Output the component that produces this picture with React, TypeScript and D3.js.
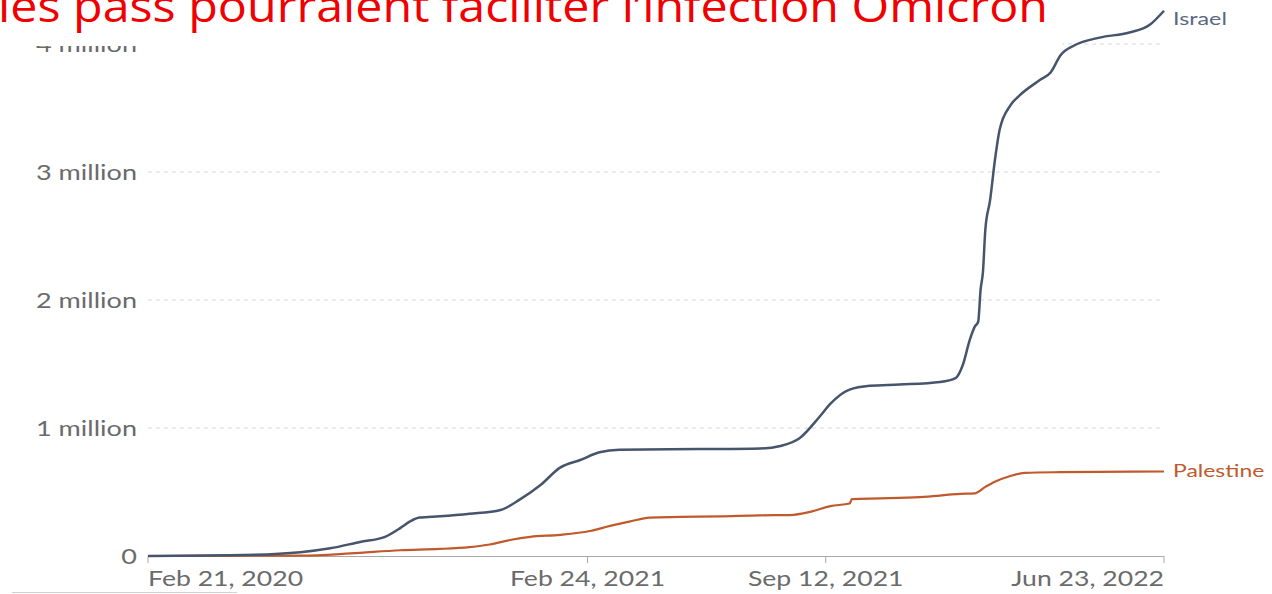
import React, { useEffect, useRef } from 'react'
import * as d3 from 'd3'

// Israel cumulative confirmed cases
const israelDates = ['2020-02-21', '2020-04-30', '2020-06-28', '2020-07-23', '2020-08-17', '2020-09-07', '2020-09-20', '2020-09-28', '2020-10-06', '2020-10-23', '2020-11-17', '2020-12-13', '2020-12-29', '2021-01-15', '2021-02-01', '2021-02-18', '2021-03-06', '2021-03-23', '2021-05-29', '2021-07-19', '2021-08-05', '2021-08-21', '2021-09-07', '2021-09-16', '2021-10-02', '2021-10-19', '2021-11-13', '2021-12-17', '2021-12-30', '2022-01-05', '2022-01-11', '2022-01-15', '2022-01-18', '2022-01-20', '2022-01-22', '2022-01-24', '2022-01-28', '2022-02-01', '2022-02-05', '2022-02-14', '2022-02-22', '2022-03-11', '2022-03-20', '2022-03-28', '2022-04-09', '2022-04-30', '2022-05-25', '2022-06-11', '2022-06-23']
const israelValues = [0, 5000, 30000, 60000, 110000, 150000, 220000, 270000, 300000, 310000, 330000, 360000, 440000, 550000, 690000, 750000, 810000, 830000, 835000, 840000, 860000, 920000, 1090000, 1190000, 1300000, 1330000, 1340000, 1360000, 1390000, 1490000, 1690000, 1790000, 1830000, 2080000, 2220000, 2550000, 2780000, 3090000, 3330000, 3520000, 3600000, 3720000, 3780000, 3910000, 3990000, 4050000, 4090000, 4150000, 4260000]

// Palestine cumulative confirmed cases
const palestineDates = ['2020-02-21', '2020-06-28', '2020-08-09', '2020-09-20', '2020-10-23', '2020-11-17', '2020-12-04', '2020-12-21', '2021-01-07', '2021-02-01', '2021-02-26', '2021-03-15', '2021-04-01', '2021-04-17', '2021-05-13', '2021-06-15', '2021-07-19', '2021-08-13', '2021-08-30', '2021-09-16', '2021-10-02', '2021-10-04', '2021-10-28', '2021-11-30', '2022-01-03', '2022-01-15', '2022-01-24', '2022-02-01', '2022-02-14', '2022-02-26', '2022-03-28', '2022-06-23']
const palestineValues = [0, 3000, 20000, 45000, 55000, 70000, 90000, 125000, 150000, 165000, 195000, 235000, 270000, 300000, 305000, 310000, 318000, 320000, 345000, 390000, 410000, 445000, 450000, 460000, 485000, 490000, 540000, 580000, 625000, 650000, 655000, 660000]

const xTickDates = ['2020-02-21', '2021-02-24', '2021-09-12', '2022-06-23']
const xTickLabels = ['Feb 21, 2020', 'Feb 24, 2021', 'Sep 12, 2021', 'Jun 23, 2022']
const yTicks = [0, 1000000, 2000000, 3000000, 4000000]
const yTickLabels = ['0', '1 million', '2 million', '3 million', '4 million']

const title = 'les pass pourraient faciliter l\u2019infection Omicron'

export default function App() {
  const ref = useRef<SVGSVGElement>(null)

  useEffect(() => {
    const width = 1272, height = 594
    const parse = d3.timeParse('%Y-%m-%d')
    const svg = d3.select(ref.current)
    svg.selectAll('*').remove()
    svg.attr('width', width).attr('height', height)
    svg.append('rect').attr('width', width).attr('height', height).attr('fill', '#fff')

    const x = d3.scaleTime()
      .domain([parse('2020-02-21')!, parse('2022-06-23')!])
      .range([148, 1164])
    const y = d3.scaleLinear().domain([0, 4000000]).range([556, 44])

    const font = 'Lato, sans-serif'

    // grid
    svg.selectAll('.grid')
      .data(yTicks.slice(1))
      .enter()
      .append('line')
      .attr('x1', 148)
      .attr('x2', 1164)
      .attr('y1', d => y(d))
      .attr('y2', d => y(d))
      .attr('stroke', '#d8d8d8')
      .attr('stroke-dasharray', '4,4')

    // y labels
    svg.selectAll('.ylab')
      .data(yTicks)
      .enter()
      .append('text')
      .attr('transform', d => 'translate(137,' + y(d) + ') scale(1.23,1)')
      .attr('text-anchor', 'end')
      .attr('dy', '0.35em')
      .style('font-family', font)
      .style('font-size', '22px')
      .attr('fill', '#6b6b6b')
      .text((d, i) => yTickLabels[i])

    // x axis
    svg.append('line')
      .attr('x1', 148).attr('x2', 1164)
      .attr('y1', 556.5).attr('y2', 556.5)
      .attr('stroke', '#a8a8a8')
    const anchors = ['start', 'middle', 'middle', 'end']
    xTickDates.forEach((d, i) => {
      const xp = x(parse(d)!)
      svg.append('line')
        .attr('x1', xp).attr('x2', xp)
        .attr('y1', 556).attr('y2', 563)
        .attr('stroke', '#a8a8a8')
      svg.append('text')
        .attr('transform', 'translate(' + xp + ',586) scale(1.21,1)')
        .attr('text-anchor', anchors[i])
        .style('font-family', font)
        .style('font-size', '22px')
        .attr('fill', '#6b6b6b')
        .text(xTickLabels[i])
    })

    const line = d3.line<[Date, number]>()
      .x(d => x(d[0]))
      .y(d => y(d[1]))
      .curve(d3.curveMonotoneX)

    const israel: [Date, number][] = israelDates.map((d, i) => [parse(d)!, israelValues[i]])
    const palestine: [Date, number][] = palestineDates.map((d, i) => [parse(d)!, palestineValues[i]])

    svg.append('path')
      .datum(palestine)
      .attr('d', line)
      .attr('fill', 'none')
      .attr('stroke', '#c0592b')
      .attr('stroke-width', 2.2)

    svg.append('path')
      .datum(israel)
      .attr('d', line)
      .attr('fill', 'none')
      .attr('stroke', '#46546c')
      .attr('stroke-width', 2.5)

    // series labels (Israel sits a little below its line end, as in the source)
    svg.append('text')
      .attr('transform', 'translate(1173,' + (y(4260000) + 8) + ') scale(1.37,1)')
      .attr('dy', '0.35em')
      .style('font-family', font)
      .style('font-size', '17px')
      .attr('fill', '#5b6880')
      .text('Israel')
    svg.append('text')
      .attr('transform', 'translate(1173,' + y(660000) + ') scale(1.35,1)')
      .attr('dy', '0.35em')
      .style('font-family', font)
      .style('font-size', '17px')
      .attr('fill', '#c0592b')
      .text('Palestine')

    // slide title box covering top of chart
    svg.append('rect')
      .attr('x', 0).attr('y', 0)
      .attr('width', 1062).attr('height', 46)
      .attr('fill', '#fff')
    svg.append('text')
      .attr('transform', 'translate(-2,22) scale(1.1,1)')
      .style('font-family', '"Open Sans", sans-serif')
      .style('font-size', '44px')
      .attr('fill', '#f00000')
      .text(title)

    svg.append('line')
      .attr('x1', 12).attr('x2', 237)
      .attr('y1', 592.5).attr('y2', 592.5)
      .attr('stroke', '#d0d0d0')
  }, [])

  return (
    <div style={{ position: 'absolute', left: 0, top: 0 }}>
      <svg ref={ref} style={{ display: 'block' }} />
    </div>
  )
}
